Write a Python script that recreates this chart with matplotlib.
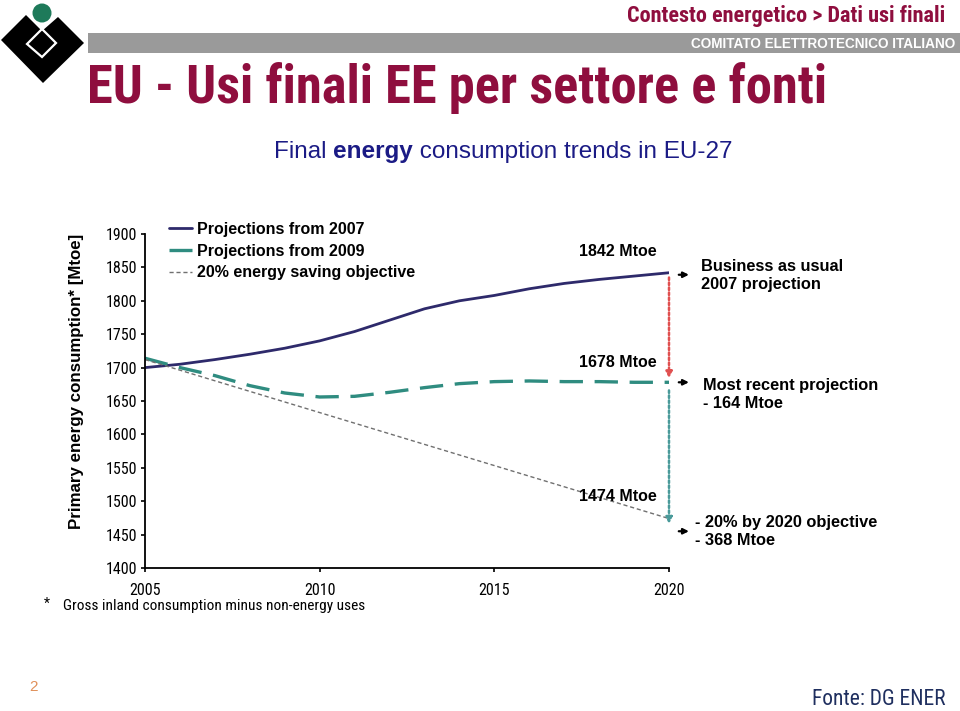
import matplotlib
matplotlib.use("Agg")
import matplotlib.pyplot as plt
from matplotlib.patches import Polygon, Circle, Rectangle

# data (Mtoe)
years = [2005, 2006, 2007, 2008, 2009, 2010, 2011, 2012, 2013, 2014,
         2015, 2016, 2017, 2018, 2019, 2020]
proj_2007 = [1700, 1705, 1712, 1720, 1729, 1740, 1754, 1771, 1788, 1800,
             1808, 1818, 1826, 1832, 1837, 1842]
proj_2009 = [1714, 1700, 1688, 1673, 1662, 1656, 1657, 1663, 1670, 1676,
             1679, 1680, 1679, 1679, 1678, 1678]
objective_years = [2005, 2020]
objective = [1712, 1474]

series_labels = ["Projections from 2007", "Projections from 2009",
                 "20% energy saving objective"]
x_ticks = [2005, 2010, 2015, 2020]
y_ticks = list(range(1400, 1901, 50))

bau_2020 = 1842
recent_2020 = 1678
target_2020 = 1474

NARROW = ["Roboto Condensed", "Liberation Sans", "DejaVu Sans"]
SANS = ["Liberation Sans", "DejaVu Sans"]
CRIMSON = "#8F0E3E"
NAVY = "#2E2A6B"
TEAL = "#2F8C80"

plt.rcParams["font.family"] = SANS

fig = plt.figure(figsize=(9.6, 7.11), dpi=100)

# ---- slide header (pixel coordinates) ----
bg = fig.add_axes([0, 0, 1, 1])
bg.set_xlim(0, 960)
bg.set_ylim(711, 0)
bg.axis("off")

bg.add_patch(Rectangle((88, 33), 872, 20, color="#9A9A9A", lw=0))
bg.add_patch(Polygon([(1, 40), (26, 15), (42, 31), (58, 17), (84, 43), (43, 83)],
                     closed=True, color="black", lw=0))
bg.add_patch(Polygon([(27, 44), (42, 29), (56, 43), (42, 57)], closed=True,
                     fill=False, ec="white", lw=1.6))
bg.add_patch(Circle((42, 13), 9.5, color="#1E7A5A", lw=0))

bg.text(945, 16, "Contesto energetico > Dati usi finali", color=CRIMSON,
        fontsize=16, fontweight="bold", family=NARROW, ha="right", va="center")
bg.text(955, 44, "COMITATO ELETTROTECNICO ITALIANO", color="white",
        fontsize=9.8, fontweight="bold", family=SANS, ha="right", va="center")
bg.text(87, 103, "EU - Usi finali EE per settore e fonti", color=CRIMSON,
        fontsize=37.8, fontweight="bold", family=NARROW, ha="left",
        va="baseline")

# subtitle with a bold word: lay the three pieces side by side
sub_parts = [("Final ", "normal"), ("energy", "bold"),
             (" consumption trends in EU-27", "normal")]
renderer = fig.canvas.get_renderer()
pieces = []
for txt, w in sub_parts:
    t = bg.text(0, 158, txt, color="#1B1B85", fontsize=17.5, fontweight=w,
                ha="left", va="baseline")
    pieces.append(t)
widths = [p.get_window_extent(renderer).width for p in pieces]
x0 = 503 - sum(widths) / 2
for p, wd in zip(pieces, widths):
    p.set_x(x0)
    x0 += wd

bg.text(33, 687, "2", color="#E0905A", fontsize=11, ha="center", va="center")
bg.text(945, 705, "Fonte: DG ENER", color="#1F2F5F", fontsize=15.5,
        family=NARROW, ha="right", va="baseline")
bg.text(47, 604, "*", fontsize=10, family=NARROW, ha="center", va="center")
bg.text(63, 606, "Gross inland consumption minus non-energy uses",
        fontsize=11.1, family=NARROW, ha="left", va="center")

# ---- chart ----
ax = fig.add_axes([145 / 960, 1 - 568 / 711, 524 / 960, 334 / 711])
ax.patch.set_alpha(0)

l1, = ax.plot(years, proj_2007, color=NAVY, lw=2.0, solid_capstyle="round")
l2, = ax.plot(years, proj_2009, color=TEAL, lw=2.4, dashes=(7, 3.5))
l3, = ax.plot(objective_years, objective, color="#707070", lw=1.0, dashes=(3, 2))

ax.set_xlim(2005, 2020)
ax.set_ylim(1400, 1900)
ax.set_xticks(x_ticks)
ax.set_yticks(y_ticks)
for s in ["top", "right"]:
    ax.spines[s].set_visible(False)
for s in ["left", "bottom"]:
    ax.spines[s].set_linewidth(1.3)
ax.tick_params(direction="out", length=3, width=1.2, labelsize=11.5)
ax.tick_params(axis="x", pad=7.5)
ax.tick_params(axis="y", pad=2.5)
for lab in ax.get_xticklabels() + ax.get_yticklabels():
    lab.set_family(NARROW)

ax.set_ylabel("Primary energy consumption* [Mtoe]", fontsize=12.2,
              fontweight="bold")
ax.yaxis.set_label_coords(-0.116, 0.56)

leg = ax.legend([l1, l2, l3], series_labels, loc="upper left",
                bbox_to_anchor=(0.03, 1.06), frameon=False, borderpad=0,
                handlelength=1.45, handletextpad=0.3, labelspacing=0.42,
                prop={"weight": "bold", "size": 11.5})

# vertical differences at 2020
ax.annotate("", xy=(2020, recent_2020 + 2), xytext=(2020, bau_2020 - 3),
            arrowprops=dict(arrowstyle="-|>", color="#E05050", lw=1.8,
                            linestyle=(0, (1, 1)), mutation_scale=9),
            annotation_clip=False)
ax.annotate("", xy=(2020, target_2020 - 12), xytext=(2020, recent_2020 - 8),
            arrowprops=dict(arrowstyle="-|>", color="#4A9A9A", lw=1.8,
                            linestyle=(0, (1, 1)), mutation_scale=9),
            annotation_clip=False)

# short black arrows to the right
for yv in [bau_2020 - 3, recent_2020, 1455]:
    ax.annotate("", xy=(2020.65, yv), xytext=(2020.2, yv),
                arrowprops=dict(arrowstyle="-|>", color="black", lw=1.6,
                                mutation_scale=8),
                annotation_clip=False)

# value labels
lbl = dict(textcoords="offset points", ha="center", va="center",
           fontsize=11.5, fontweight="bold", annotation_clip=False)
ax.annotate(f"{bau_2020} Mtoe", xy=(2020, bau_2020), xytext=(-37, 15), **lbl)
ax.annotate(f"{recent_2020} Mtoe", xy=(2020, recent_2020), xytext=(-37, 14), **lbl)
ax.annotate(f"{target_2020} Mtoe", xy=(2020, target_2020), xytext=(-37, 16), **lbl)

side = dict(textcoords="offset points", ha="left", va="center",
            fontsize=11.8, fontweight="bold", linespacing=1.25,
            annotation_clip=False)
ax.annotate("Business as usual\n2007 projection", xy=(2020, bau_2020),
            xytext=(23, -2), **side)
ax.annotate("Most recent projection\n- 164 Mtoe", xy=(2020, recent_2020),
            xytext=(24.5, -9), **side)
ax.annotate("- 20% by 2020 objective\n- 368 Mtoe", xy=(2020, target_2020),
            xytext=(18.5, -9), **side)

fig.savefig("out.png", dpi=100)
